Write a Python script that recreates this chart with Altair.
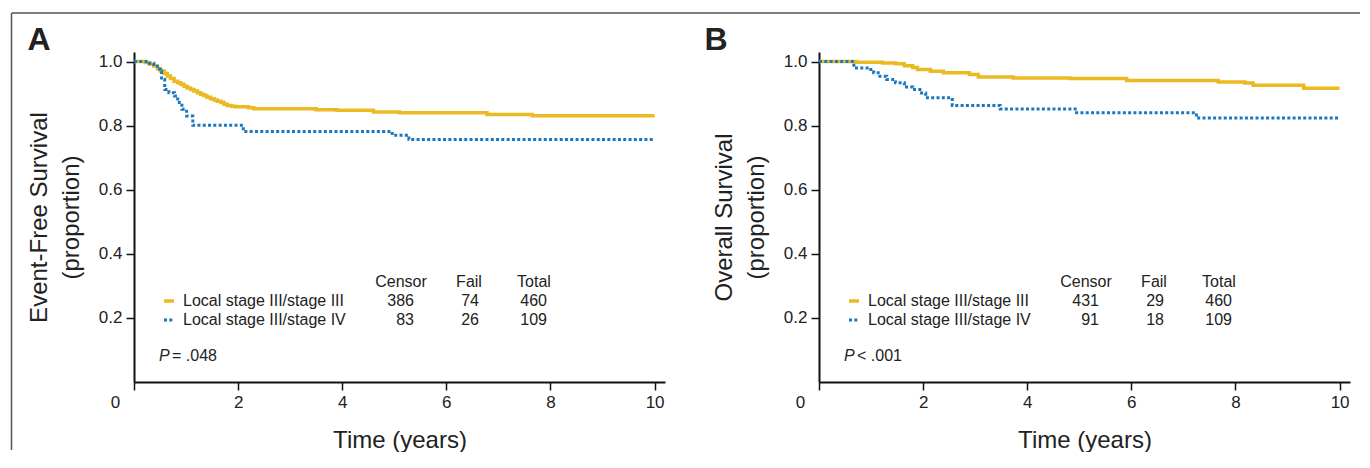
import altair as alt
import pandas as pd

YEL = "#EBB923"
BLU = "#1A78C0"
TXT = "#222222"
FONT = "Liberation Sans"

groups = ["Local stage III/stage III", "Local stage III/stage IV"]

# Panel A: event-free survival (step times in years, survival after step)
efs_t_iii = [0, 0.22, 0.30, 0.38, 0.45, 0.51, 0.58, 0.64, 0.70, 0.77, 0.84, 0.90, 0.96,
             1.02, 1.09, 1.15, 1.22, 1.28, 1.34, 1.40, 1.47, 1.54, 1.60, 1.67, 1.73, 1.79,
             1.87, 1.95, 2.20, 2.30, 3.50, 3.90, 4.60, 5.10, 6.78, 7.65, 10.0]
efs_s_iii = [1.0, 0.997, 0.992, 0.986, 0.978, 0.971, 0.963, 0.955, 0.947, 0.939, 0.934, 0.929, 0.923,
             0.918, 0.913, 0.908, 0.903, 0.898, 0.894, 0.889, 0.884, 0.880, 0.876, 0.872, 0.867, 0.863,
             0.861, 0.859, 0.856, 0.853, 0.850, 0.848, 0.843, 0.840, 0.835, 0.831, 0.831]
efs_t_iv = [0, 0.29, 0.38, 0.45, 0.50, 0.53, 0.59, 0.67, 0.78, 0.84, 0.92, 1.01, 1.13, 2.10, 4.96, 5.28, 10.0]
efs_s_iv = [1.0, 0.995, 0.991, 0.976, 0.970, 0.944, 0.913, 0.903, 0.893, 0.872, 0.851, 0.830, 0.801,
            0.782, 0.770, 0.757, 0.757]

# Panel B: overall survival
os_t_iii = [0, 0.71, 1.22, 1.47, 1.64, 1.80, 1.89, 2.14, 2.39, 2.89, 3.06, 3.73, 4.82, 5.91,
            7.67, 8.18, 8.34, 9.31, 10.0]
os_s_iii = [1.0, 0.998, 0.996, 0.993, 0.987, 0.982, 0.975, 0.970, 0.965, 0.960, 0.952, 0.949, 0.947,
            0.941, 0.936, 0.933, 0.926, 0.917, 0.917]
os_t_iv = [0, 0.67, 0.96, 1.05, 1.17, 1.30, 1.47, 1.64, 1.80, 1.97, 2.05, 2.56, 3.48, 4.95, 7.25, 10.0]
os_s_iv = [1.0, 0.980, 0.975, 0.965, 0.954, 0.944, 0.934, 0.921, 0.913, 0.902, 0.887, 0.863, 0.852,
           0.840, 0.824, 0.824]

efs_censor = [386, 83]
efs_fail = [74, 26]
efs_total = [460, 109]
os_censor = [431, 91]
os_fail = [29, 18]
os_total = [460, 109]

col_heads = ["Censor", "Fail", "Total"]
x_ticks = [0, 2, 4, 6, 8, 10]
y_ticks = [0.2, 0.4, 0.6, 0.8, 1.0]

W, H = 531, 330


def text_layer(value, x, y, align="left", size=16, style="normal", weight="normal"):
    df = pd.DataFrame({"v": [str(value)]})
    return alt.Chart(df).mark_text(
        align=align, baseline="middle", font=FONT, fontSize=size,
        fontStyle=style, fontWeight=weight, color=TXT
    ).encode(text="v:N", x=alt.value(x), y=alt.value(y))


def panel(t3, s3, t4, s4, ytitle, censor, fail, total, p_op, p_val, letter, letter_dx, frame=False):
    df = pd.DataFrame({
        "t": t3 + t4,
        "s": s3 + s4,
        "g": [groups[0]] * len(t3) + [groups[1]] * len(t4),
    })
    x = alt.X("t:Q", scale=alt.Scale(domain=[0, 10.2], nice=False, zero=False),
              axis=alt.Axis(values=x_ticks, title="Time (years)", labelFlush=False,
                            titlePadding=18,
                            labelOffset={"condition": {"test": "datum.value === 0", "value": -19},
                                         "value": 0}))
    y = alt.Y("s:Q", scale=alt.Scale(domain=[0, 1.03], nice=False),
              axis=alt.Axis(values=y_ticks, format=".1f", title=ytitle, labelFlush=False,
                            titlePadding=15, titleLineHeight=32))
    base = alt.Chart(df)
    l3 = base.transform_filter(alt.datum.g == groups[0]).mark_line(
        interpolate="step-after", color=YEL, strokeWidth=3.5).encode(x=x, y=y)
    l4 = base.transform_filter(alt.datum.g == groups[1]).mark_line(
        interpolate="step-after", color=BLU, strokeWidth=3, strokeDash=[3, 2.3]).encode(x=x, y=y)

    layers = [l3, l4]

    # legend table
    row_y = [249, 268]
    head_y = 230
    col_center = [267, 335, 400]
    col_right = [280, 345, 413]
    for hx, h in zip(col_center, col_heads):
        layers.append(text_layer(h, hx, head_y, align="center"))
    sw = alt.Chart(pd.DataFrame({"g": groups}))
    layers.append(sw.transform_filter(alt.datum.g == groups[0]).mark_rule(
        color=YEL, strokeWidth=3.5).encode(x=alt.value(30), x2=alt.value(40), y=alt.value(row_y[0])))
    layers.append(sw.transform_filter(alt.datum.g == groups[1]).mark_rule(
        color=BLU, strokeWidth=3, strokeDash=[3, 2.3]).encode(x=alt.value(30), x2=alt.value(40),
                                                            y=alt.value(row_y[1])))
    for i in range(2):
        layers.append(text_layer(groups[i], 49, row_y[i]))
        for cx, vals in zip(col_right, [censor, fail, total]):
            layers.append(text_layer(vals[i], cx, row_y[i], align="right"))
    layers.append(text_layer("P", 25, 304, style="italic"))
    layers.append(text_layer(p_op + " " + p_val, 38, 304))
    layers.append(text_layer(letter, letter_dx, -12, align="center", size=32, weight="bold"))

    if frame:
        fr = alt.Chart(pd.DataFrame({"v": [0]}))
        layers.append(fr.mark_rule(color="#555555", strokeWidth=1.5).encode(
            x=alt.value(-122.5), y=alt.value(-39), y2=alt.value(398)))
        layers.append(fr.mark_rule(color="#555555", strokeWidth=1.5).encode(
            x=alt.value(-122.5), x2=alt.value(1226), y=alt.value(-39)))

    return alt.layer(*layers).properties(width=W, height=H)


pa = panel(efs_t_iii, efs_s_iii, efs_t_iv, efs_s_iv, ["Event-Free Survival", "(proportion)"],
           efs_censor, efs_fail, efs_total, "=", ".048", "A", -95, frame=True)
pb = panel(os_t_iii, os_s_iii, os_t_iv, os_s_iv, ["Overall Survival", "(proportion)"],
           os_censor, os_fail, os_total, "<", ".001", "B", -103)

chart = alt.hconcat(pa, pb, spacing=154, bounds="flush").properties(
    padding={"left": 2, "top": 4, "right": 0, "bottom": 0},
    background="white",
).configure_view(stroke=None).configure_axis(
    domainColor="#111111", domainWidth=2, tickColor="#111111", tickWidth=1.5, tickSize=8,
    labelFont=FONT, labelFontSize=17, labelColor=TXT, labelPadding=4,
    titleFont=FONT, titleFontSize=24, titleFontWeight="normal", titleColor=TXT, grid=False,
)

chart.save("out.html", embed_options={"renderer": "svg", "actions": False})
